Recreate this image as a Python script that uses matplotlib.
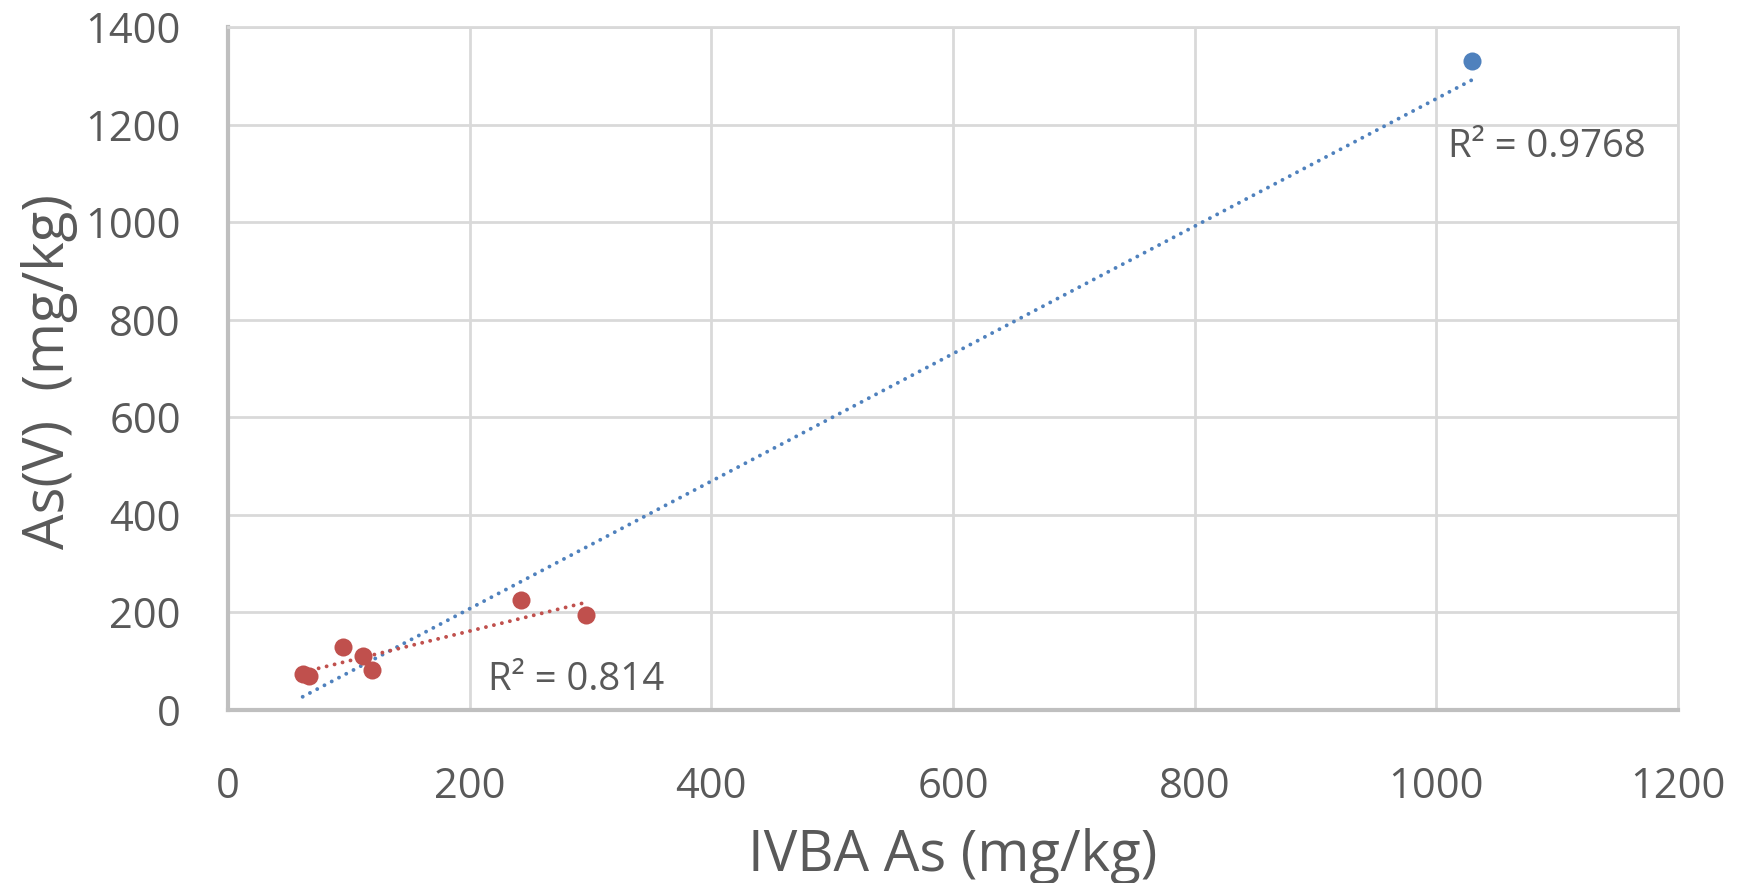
import numpy as np
import matplotlib
matplotlib.use("Agg")
import matplotlib.pyplot as plt

# Data
ivba_red = [61.8, 67.3, 95.2, 111.5, 119.4, 242.5, 296.5]
asv_red = [73.8, 69.7, 128.5, 110.7, 82.0, 226.0, 194.0]
ivba_blue = [1029.8]
asv_blue = [1330.8]
r2_all = "R² = 0.9768"
r2_red = "R² = 0.814"
x_ticks = [0, 200, 400, 600, 800, 1000, 1200]
y_ticks = [0, 200, 400, 600, 800, 1000, 1200, 1400]
x_title = "IVBA As (mg/kg)"
y_title = "As(V)  (mg/kg)"

BLUE = "#4F81BD"
RED = "#C0504D"
TXT = "#595959"
plt.rcParams['font.family'] = ['Open Sans', 'DejaVu Sans']

fig = plt.figure(figsize=(17.41, 8.83), dpi=100)
ax = fig.add_axes([228/1741, (883-710)/883, 1450/1741, 683/883])

x_all = np.array(ivba_red + ivba_blue)
y_all = np.array(asv_red + asv_blue)
xr = np.array(ivba_red)
yr = np.array(asv_red)

# trendlines (linear fits)
pa = np.polyfit(x_all, y_all, 1)
xa = np.array([x_all.min(), x_all.max()])
ax.plot(xa, np.polyval(pa, xa), color=BLUE, lw=2.8, linestyle=(0, (0.01, 2.1)),
        dash_capstyle='round', zorder=3)
pr = np.polyfit(xr, yr, 1)
xrr = np.array([xr.min(), xr.max()])
ax.plot(xrr, np.polyval(pr, xrr), color=RED, lw=2.8, linestyle=(0, (0.01, 2.1)),
        dash_capstyle='round', zorder=3)

ax.plot(ivba_blue, asv_blue, 'o', color=BLUE, markersize=13, markeredgewidth=0, zorder=4)
ax.plot(ivba_red, asv_red, 'o', color=RED, markersize=13, markeredgewidth=0, zorder=5)

ax.text(1009.7, 1154, r2_all, fontsize=27.5, color=TXT, ha='left', va='center')
ax.text(215, 61.5, r2_red, fontsize=27.5, color=TXT, ha='left', va='center')

ax.set_xlim(0, 1200)
ax.set_ylim(0, 1400)
ax.set_xticks(x_ticks)
ax.set_yticks(y_ticks)
ax.tick_params(length=0, labelsize=30, labelcolor=TXT)
ax.tick_params(axis='x', pad=40)
ax.tick_params(axis='y', pad=34)
ax.grid(True, color="#D9D9D9", lw=2)
ax.set_axisbelow(True)
for s in ['top', 'right']:
    ax.spines[s].set_color("#D9D9D9")
    ax.spines[s].set_linewidth(2)
for s in ['left', 'bottom']:
    ax.spines[s].set_color("#BFBFBF")
    ax.spines[s].set_linewidth(3)

ax.set_xlabel(x_title, fontsize=40.5, color=TXT, va='center')
ax.set_ylabel(y_title, fontsize=40.5, color=TXT, va='center')
ax.xaxis.set_label_coords(0.5, -0.214)
ax.yaxis.set_label_coords(-0.1228, 0.496)

fig.savefig("out.png", dpi=100, facecolor='white')
